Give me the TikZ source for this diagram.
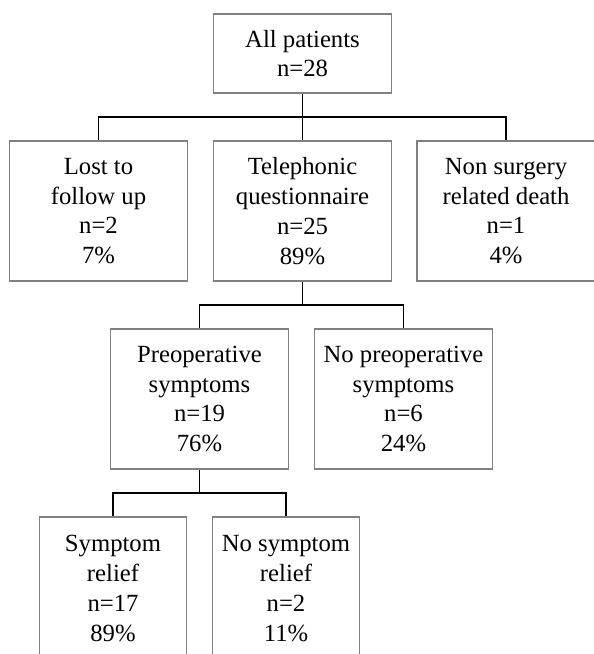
\documentclass[tikz,border=0pt]{standalone}
\usepackage{fontspec}
\setmainfont{Liberation Serif}
\usetikzlibrary{calc}
\definecolor{boxgray}{RGB}{128,128,128}
\tikzset{
  box/.style={draw=boxgray, line width=1.6pt, fill=white, inner sep=0pt,
    align=center, minimum width=178pt, minimum height=140pt,
    font=\fontsize{24.7}{29.8}\selectfont},
  smallbox/.style={box, minimum width=147pt, minimum height=143pt},
  topbox/.style={box, minimum height=79pt},
  conn/.style={draw=black, line width=1.6pt}
}
\begin{document}
\begin{tikzpicture}[x=1pt,y=-1pt]
\useasboundingbox (0,0) rectangle (594,654);
\clip (0,0) rectangle (594,654);
\fill[white] (0,0) rectangle (594,654);
\node[topbox] (top) at (302.5,53.5) {All patients\\n=28};
\node[box] (lost) at (98.5,211) {Lost to\\follow up\\n=2\\7\%};
\node[box] (tel) at (302.5,211) {Telephonic\\questionnaire\\n=25\\89\%};
\node[box] (death) at (506,211) {Non surgery\\related death\\n=1\\4\%};
\node[box] (pre) at (199.5,399) {Preoperative\\symptoms\\n=19\\76\%};
\node[box] (nopre) at (403.5,399) {No preoperative\\symptoms\\n=6\\24\%};
\node[smallbox] (rel) at (113,588.5) {Symptom\\relief\\n=17\\89\%};
\node[smallbox] (norel) at (286,588.5) {No symptom\\relief\\n=2\\11\%};
\coordinate (b1) at ($(top.south)!0.5!(tel.north)$);
\coordinate (b2) at ($(tel.south)!0.5!(tel.south |- pre.north)$);
\coordinate (b3) at ($(pre.south)!0.5!(pre.south |- rel.north)$);
\draw[conn] (top.south) -- (b1) -- (tel.north);
\draw[conn] (lost.north) |- (b1) -| (death.north);
\draw[conn] (tel.south) -- (b2);
\draw[conn] (pre.north) |- (b2) -| (nopre.north);
\draw[conn] (pre.south) -- (b3);
\draw[conn] (rel.north) |- (b3) -| (norel.north);
\end{tikzpicture}
\end{document}
